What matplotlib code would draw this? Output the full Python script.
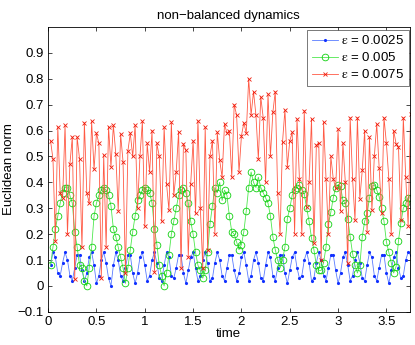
import numpy as np
import matplotlib
matplotlib.use("Agg")
import matplotlib.pyplot as plt

plt.rcParams['font.family'] = ['Liberation Sans', 'DejaVu Sans']
plt.rcParams['mathtext.fontset'] = 'stix'

# sample spacing of the simulation output
dt = 0.025

eps_labels = [r'$\mathrm{\varepsilon}$ = 0.0025',
              r'$\mathrm{\varepsilon}$ = 0.005',
              r'$\mathrm{\varepsilon}$ = 0.0075']

norm_eps1 = [
    0.08, 0.13, 0.11, 0.05, 0.04, 0.09, 0.13, 0.10, 0.04, 0.02,
    0.07, 0.12, 0.12, 0.06, 0.02, 0.05, 0.11, 0.13, 0.08, 0.01,
    0.04, 0.10, 0.13, 0.09, 0.03, 0.00, 0.08, 0.13, 0.10, 0.04,
    0.02, 0.07, 0.12, 0.12, 0.05, 0.01, 0.05, 0.11, 0.13, 0.08,
    0.02, 0.04, 0.10, 0.13, 0.09, 0.03, 0.02, 0.08, 0.13, 0.11,
    0.04, 0.03, 0.07, 0.12, 0.12, 0.05, 0.01, 0.06, 0.11, 0.13,
    0.07, 0.02, 0.04, 0.10, 0.13, 0.09, 0.02, 0.03, 0.09, 0.13,
    0.10, 0.04, 0.02, 0.07, 0.12, 0.12, 0.06, 0.02, 0.05, 0.11,
    0.13, 0.08, 0.02, 0.04, 0.10, 0.13, 0.09, 0.03, 0.02, 0.08,
    0.13, 0.11, 0.04, 0.02, 0.07, 0.12, 0.12, 0.05, 0.01, 0.06,
    0.11, 0.13, 0.07, 0.03, 0.04, 0.10, 0.13, 0.09, 0.02, 0.03,
    0.09, 0.13, 0.10, 0.04, 0.02, 0.07, 0.12, 0.12, 0.06, 0.01,
    0.05, 0.11, 0.13, 0.08, 0.02, 0.04, 0.10, 0.13, 0.09, 0.03,
    0.02, 0.08, 0.13, 0.11, 0.04, 0.02, 0.07, 0.12, 0.12, 0.05,
    0.01, 0.06, 0.11, 0.13, 0.07, 0.03, 0.04, 0.10, 0.13, 0.12,
]

norm_eps2 = [
    0.08, 0.15, 0.22, 0.27, 0.32, 0.36, 0.38, 0.38,
    0.35, 0.32, 0.21, 0.15, 0.08, 0.07, 0.02, 0.00,
    0.07, 0.15, 0.27, 0.32, 0.35, 0.37, 0.38, 0.37,
    0.35, 0.31, 0.22, 0.19, 0.15, 0.11, 0.07, 0.01,
    0.07, 0.14, 0.21, 0.27, 0.33, 0.35, 0.37, 0.38,
    0.37, 0.36, 0.32, 0.22, 0.16, 0.08, 0.04, 0.00,
    0.05, 0.12, 0.20, 0.25, 0.30, 0.35, 0.37, 0.38,
    0.36, 0.32, 0.25, 0.20, 0.13, 0.08, 0.06, 0.03,
    0.06, 0.13, 0.24, 0.31, 0.38, 0.36, 0.40, 0.33,
    0.37, 0.35, 0.27, 0.21, 0.20, 0.17, 0.14, 0.16,
    0.21, 0.29, 0.38, 0.44, 0.40, 0.38,
    0.42, 0.38, 0.36, 0.34, 0.32, 0.27, 0.19, 0.14, 0.10, 0.07,
    0.10, 0.15, 0.26, 0.30, 0.35, 0.37, 0.38, 0.39,
    0.37, 0.355, 0.30, 0.25, 0.185, 0.14, 0.08, 0.06,
    0.06, 0.09, 0.15, 0.24, 0.285, 0.34, 0.38, 0.39,
    0.385, 0.33, 0.32, 0.26, 0.19, 0.125, 0.08, 0.05,
    0.08, 0.19, 0.25, 0.28, 0.34, 0.385, 0.39, 0.37,
    0.345, 0.30, 0.25, 0.17, 0.13, 0.09, 0.05, 0.075,
    0.175, 0.245, 0.30, 0.32, 0.34, 0.34,
]

norm_eps3 = [
    0.56, 0.49, 0.175, 0.615, 0.36, 0.34, 0.62, 0.20, 0.47, 0.575,
    0.025, 0.575, 0.49, 0.15, 0.63, 0.36, 0.32, 0.635, 0.45, 0.59,
    0.55, 0.03, 0.505, 0.15, 0.615, 0.46, 0.62, 0.51, 0.29, 0.585,
    0.48, 0.05, 0.52, 0.59, 0.50, 0.62, 0.30, 0.50, 0.635, 0.23,
    0.55, 0.44, 0.60, 0.055, 0.55, 0.50, 0.25, 0.613, 0.395, 0.292,
    0.632, 0.35, 0.44, 0.596, 0.068, 0.549, 0.523, 0.113, 0.395, 0.56,
    0.28, 0.638, 0.30, 0.07, 0.613, 0.138, 0.503, 0.56, 0.202, 0.593,
    0.485, 0.42, 0.625, 0.59, 0.60, 0.42, 0.70, 0.66, 0.44, 0.58,
    0.63, 0.59, 0.80, 0.66, 0.75, 0.66, 0.49, 0.73, 0.65, 0.40,
    0.74, 0.50, 0.67, 0.75, 0.36, 0.20, 0.555, 0.68, 0.46, 0.56,
    0.593, 0.202, 0.645, 0.414, 0.20, 0.677, 0.305, 0.40, 0.645, 0.164,
    0.543, 0.552, 0.10, 0.632, 0.414, 0.20, 0.50, 0.414, 0.377, 0.606,
    0.29, 0.55, 0.40, 0.087, 0.65, 0.414, 0.254, 0.65, 0.337, 0.446,
    0.60, 0.209, 0.574, 0.292, 0.50, 0.625, 0.457, 0.28, 0.65, 0.55,
    0.414, 0.20, 0.60, 0.549, 0.536, 0.254, 0.65, 0.42, 0.232, 0.664,
]

time = dt * np.arange(1, len(norm_eps3) + 1)

fig = plt.figure(figsize=(4.15, 3.45), dpi=100)
ax = fig.add_axes([0.116, 0.096, 0.871, 0.826])

# thin MATLAB-like lines look paler than their markers
ax.plot(time, norm_eps1, color='#5a7cff', lw=0.6, marker='.', ms=2.5,
        mfc='#1030ff', mec='#1030ff', label=eps_labels[0])
ax.plot(time, norm_eps2, color='#4ee84e', lw=0.6, marker='o', ms=4.8,
        mfc='none', mec='#10d010', mew=0.6, label=eps_labels[1])
ax.plot(time, norm_eps3, color='#ff5a45', lw=0.6, marker='x', ms=3,
        mec='#f01a0a', mew=0.6, label=eps_labels[2])

ax.set_xlim(0, 3.74)
ax.set_ylim(-0.1, 1.0)
ax.set_xticks(np.arange(0, 3.51, 0.5))
ax.set_xticklabels(['0', '0.5', '1', '1.5', '2', '2.5', '3', '3.5'])
yt = np.round(np.arange(-0.1, 0.91, 0.1), 1)
ax.set_yticks(yt)
ax.set_yticklabels(['\u22120.1', '0'] + ['%.1f' % v for v in yt[2:]])
ax.tick_params(direction='in', length=3, width=0.5, top=True, right=True,
               labelsize=9.5, pad=3)
for s in ax.spines.values():
    s.set_linewidth(0.6)

ax.set_title('non\u2212balanced dynamics', fontsize=9.5, pad=6)
ax.set_xlabel('time', fontsize=9.5, labelpad=0)
ax.set_ylabel('Euclidean norm', fontsize=9.5, labelpad=2)

leg = ax.legend(loc='upper right', bbox_to_anchor=(0.998, 0.99),
                fontsize=9.5, fancybox=False, edgecolor='#444444',
                framealpha=1, borderaxespad=0, handlelength=2.0,
                borderpad=0.35, labelspacing=0.3, handletextpad=0.25)
leg.get_frame().set_linewidth(0.5)

fig.savefig('out.png', dpi=100)
